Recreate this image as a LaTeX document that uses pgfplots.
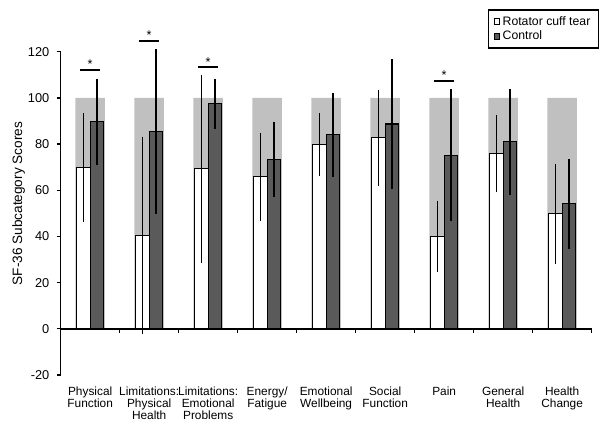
\documentclass[border=0pt]{standalone}
\usepackage{pgfplots}
\pgfplotsset{compat=1.18}
\usepackage{fontspec}
\setmainfont{Liberation Sans}
\definecolor{bggray}{RGB}{192,192,192}
\definecolor{darkbar}{RGB}{90,90,90}
\pgfplotstableread{
xw       w     we    xd       d     de
-0.1144  69.8  22.5  0.1144   89.7  17.5
0.8856   40.4  41.5  1.1144   85.5  34.6
1.8856   69.3  39.6  2.1144   97.4  9.7
2.8856   65.8  18.0  3.1144   73.4  15.0
3.8856   79.7  12.4  4.1144   84.0  17.0
4.8856   82.8  19.6  5.1144   88.7  26.9
5.8856   40.0  14.2  6.1144   75.2  27.3
6.8856   75.8  15.6  7.1144   81.0  21.7
7.8856   49.9  20.5  8.1144   54.1  18.2
}\datatable
\pgfplotstableread{
x  y
0  100
1  100
2  100
3  100
4  100
5  100
6  100
7  100
8  100
}\bgtable
\begin{document}
\begin{tikzpicture}
\path[use as bounding box] (-45.5pt,-41.25pt) rectangle (412pt,281.25pt);
\begin{axis}[
  at={(0pt,0pt)}, anchor=south west,
  scale only axis, width=398.25pt, height=242.5pt,
  xmin=-0.5, xmax=8.5, ymin=-20, ymax=120,
  clip=false,
  axis x line=bottom, axis y line=left,
  x axis line style={draw=none},
  y axis line style={-, line width=1.1pt},
  xtick={0,...,8},
  xticklabels={{Physical\\Function},{Limitations:\\Physical\\Health},{Limitations:\\Emotional\\Problems},{Energy/\\Fatigue},{Emotional\\Wellbeing},{Social\\Function},{Pain},{General\\Health},{Health\\Change}},
  xtick style={draw=none},
  xticklabel style={align=center, font=\fontsize{8.9}{8.9}\selectfont, yshift=-4pt},
  ytick={-20,0,20,40,60,80,100,120},
  ytick align=outside,
  ytick style={line width=1pt, black},
  major tick length=3pt,
  yticklabel style={font=\fontsize{9.6}{11}\selectfont, xshift=-2pt},
  /pgf/number format/assume math mode=true,
  ylabel={SF-36 Subcategory Scores},
  every axis y label/.style={at={(axis description cs:-0.079,0.53)}, rotate=90, anchor=center, font=\fontsize{10.2}{12}\selectfont},
  legend style={at={(axis description cs:1.0143,1.1311)}, anchor=north east, draw=black, line width=1.3pt, font=\fontsize{9.2}{11}\selectfont, inner xsep=4pt, inner ysep=2.5pt, row sep=-1pt},
  legend cell align=left,
]
\addplot[ybar, bar width=0.5, bar shift=0, fill=bggray, draw=none, forget plot] table[x=x, y=y] {\bgtable};
\addplot[ybar, bar width=0.2287, bar shift=0, fill=white, draw=black, line width=0.9pt,
  error bars/.cd, y dir=both, y explicit, error bar style={line width=1.1pt, black},
  error mark=-, error mark options={black, mark size=2pt, line width=1.1pt},
  /pgfplots/legend image code/.code={\draw[fill=white, draw=black, line width=0.7pt] (0pt,-2pt) rectangle (4pt,2pt);}]
  table[x=xw, y=w, y error=we] {\datatable};
\addlegendentry{Rotator cuff tear}
\addplot[ybar, bar width=0.2287, bar shift=0, fill=darkbar, draw=black, line width=0.9pt,
  error bars/.cd, y dir=both, y explicit, error bar style={line width=1.1pt, black},
  error mark=-, error mark options={black, mark size=2pt, line width=1.1pt},
  /pgfplots/legend image code/.code={\draw[fill=darkbar, draw=black, line width=0.7pt] (0pt,-2pt) rectangle (4pt,2pt);}]
  table[x=xd, y=d, y error=de] {\datatable};
\addlegendentry{Control}
% zero line and category ticks
\addplot[black, line width=1.1pt, forget plot, no markers] coordinates {(-0.5,0) (8.5,0)};
\addplot[black, line width=1pt, forget plot, ycomb, no markers] coordinates {(0.5,-1.6) (1.5,-1.6) (2.5,-1.6) (3.5,-1.6) (4.5,-1.6) (5.5,-1.6) (6.5,-1.6) (7.5,-1.6) (8.5,-1.6)};
% significance brackets
\addplot[black, line width=1.5pt, forget plot, no markers] coordinates {(-0.165,112) (0.165,112)};
\addplot[black, line width=1.5pt, forget plot, no markers] coordinates {(0.835,124.6) (1.165,124.6)};
\addplot[black, line width=1.5pt, forget plot, no markers] coordinates {(1.835,113.2) (2.165,113.2)};
\addplot[black, line width=1.5pt, forget plot, no markers] coordinates {(5.835,107.3) (6.165,107.3)};
\node[anchor=base, inner sep=0pt, yshift=1pt, font=\fontsize{9.5}{11}\selectfont] at (axis cs:0,112) {*};
\node[anchor=base, inner sep=0pt, yshift=1pt, font=\fontsize{9.5}{11}\selectfont] at (axis cs:1,124.6) {*};
\node[anchor=base, inner sep=0pt, yshift=1pt, font=\fontsize{9.5}{11}\selectfont] at (axis cs:2,113.2) {*};
\node[anchor=base, inner sep=0pt, yshift=1pt, font=\fontsize{9.5}{11}\selectfont] at (axis cs:6,107.3) {*};
\end{axis}
\end{tikzpicture}
\end{document}
